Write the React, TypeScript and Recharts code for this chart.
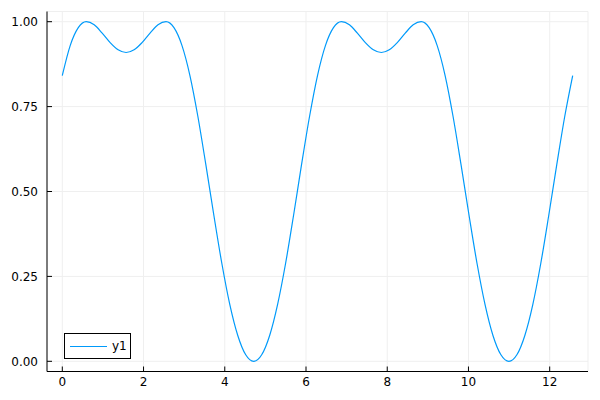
import { LineChart, Line, XAxis, YAxis, CartesianGrid } from 'recharts'

// sample positions along x (0 .. 4π)
const xs = [
  0, 0.196, 0.393, 0.589, 0.785, 0.982, 1.178, 1.374, 1.571, 1.767, 1.963, 2.16, 2.356, 2.553, 2.749, 2.945,
  3.142, 3.338, 3.534, 3.731, 3.927, 4.123, 4.32, 4.516, 4.712, 4.909, 5.105, 5.301, 5.498, 5.694, 5.89, 6.087,
  6.283, 6.48, 6.676, 6.872, 7.069, 7.265, 7.461, 7.658, 7.854, 8.05, 8.247, 8.443, 8.639, 8.836, 9.032, 9.228,
  9.425, 9.621, 9.817, 10.014, 10.21, 10.407, 10.603, 10.799, 10.996, 11.192, 11.388, 11.585, 11.781, 11.977,
  12.174, 12.37, 12.566,
]

const y1 = [
  0.8415, 0.9303, 0.9824, 0.9999, 0.9907, 0.9662, 0.9383, 0.9171, 0.9093, 0.9171, 0.9383, 0.9662, 0.9907, 0.9999,
  0.9824, 0.9303, 0.8415, 0.7208, 0.5789, 0.43, 0.2887, 0.1677, 0.0761, 0.0192, 0, 0.0192, 0.0761, 0.1677, 0.2887,
  0.43, 0.5789, 0.7208, 0.8415, 0.9303, 0.9824, 0.9999, 0.9907, 0.9662, 0.9383, 0.9171, 0.9093, 0.9171, 0.9383,
  0.9662, 0.9907, 0.9999, 0.9824, 0.9303, 0.8415, 0.7208, 0.5789, 0.43, 0.2887, 0.1677, 0.0761, 0.0192, 0, 0.0192,
  0.0761, 0.1677, 0.2887, 0.43, 0.5789, 0.7208, 0.8415,
]

const xTicks = [0, 2, 4, 6, 8, 10, 12]
const yTicks = [0, 0.25, 0.5, 0.75, 1]

const LINE = '#009afa'
const FONT = 'DejaVu Sans, sans-serif'

const data = xs.map((x, i) => ({ x, y1: y1[i] }))

// legend drawn as a plain overlay so it doesn't eat into the plot area
function LegendBox() {
  return (
    <div
      style={{
        position: 'absolute',
        left: 64,
        top: 333,
        width: 67,
        height: 26,
        boxSizing: 'border-box',
        border: '1px solid #000',
        background: '#fff',
        display: 'flex',
        alignItems: 'center',
        fontFamily: FONT,
        fontSize: 12,
        color: '#000',
      }}
    >
      <div style={{ width: 37, height: 0, borderTop: `1px solid ${LINE}`, marginLeft: 5, marginRight: 5 }} />
      <span>y1</span>
    </div>
  )
}

export default function App() {
  return (
    <div style={{ position: 'absolute', left: 0, top: 0, width: 600, height: 400, background: '#fff' }}>
      <LineChart width={600} height={400} data={data} margin={{ top: 11.5, right: 12, left: 0, bottom: 0 }}>
        <CartesianGrid stroke="#efefef" strokeWidth={1} />
        <XAxis
          dataKey="x"
          type="number"
          domain={[-0.377, 12.943]}
          ticks={xTicks}
          height={28.5}
          stroke="#000"
          tickSize={-5}
          tickMargin={11}
          tick={{ fontSize: 12, fill: '#000', fontFamily: FONT }}
          interval={0}
          allowDataOverflow
        />
        <YAxis
          type="number"
          domain={[-0.03, 1.03]}
          ticks={yTicks}
          width={47}
          stroke="#000"
          tickSize={-5}
          tickMargin={14}
          tick={{ fontSize: 12, fill: '#000', fontFamily: FONT }}
          tickFormatter={(v: number) => v.toFixed(2)}
          interval={0}
          allowDataOverflow
        />
        <Line
          type="monotone"
          dataKey="y1"
          stroke={LINE}
          strokeWidth={1.2}
          dot={false}
          isAnimationActive={false}
        />
      </LineChart>
      <LegendBox />
    </div>
  )
}
